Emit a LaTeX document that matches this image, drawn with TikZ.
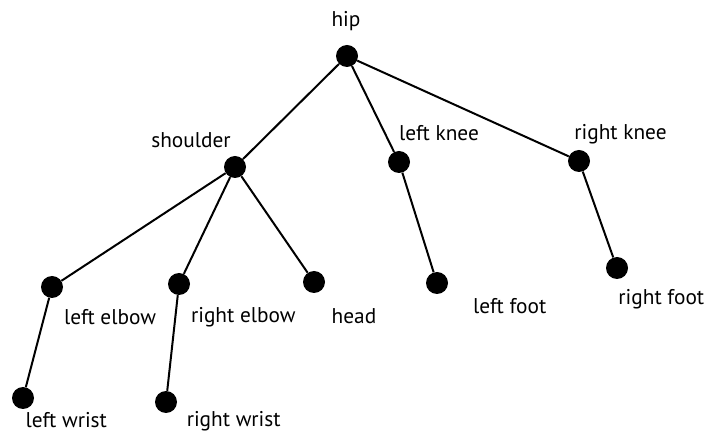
\documentclass[tikz,border=0pt]{standalone}
\usepackage{fontspec}
\setmainfont{PT Sans}
\usepackage{tikz}

\begin{document}
\begin{tikzpicture}[x=0.75pt, y=-0.75pt,
    joint/.style={circle, fill=black, inner sep=0pt, minimum size=16.5pt},
    bone/.style={line width=1.5pt},
    tag/.style={anchor=base, inner sep=0pt, font=\fontsize{16}{19}\selectfont}
]
\useasboundingbox (0,0) rectangle (707,434);
% joints
\node[joint] (hip) at (347, 56) {};
\node[joint] (shoulder) at (235, 167) {};
\node[joint] (lknee) at (399, 162) {};
\node[joint] (rknee) at (579, 161) {};
\node[joint] (lelbow) at (52, 287) {};
\node[joint] (relbow) at (179, 284) {};
\node[joint] (head) at (314, 282) {};
\node[joint] (lfoot) at (437, 283) {};
\node[joint] (rfoot) at (617, 268) {};
\node[joint] (lwrist) at (23, 398) {};
\node[joint] (rwrist) at (166, 402) {};
% labels
\node[tag] (hipLbl) at (346, 27) {hip};
\node[tag] (shoulderLbl) at (191, 147.7) {shoulder};
\node[tag] (lkneeLbl) at (439, 140.7) {left knee};
\node[tag] (rkneeLbl) at (620.5, 139.3) {right knee};
\node[tag] (lelbowLbl) at (110, 325) {left elbow};
\node[tag] (relbowLbl) at (243.3, 322.7) {right elbow};
\node[tag] (headLbl) at (354, 323.3) {head};
\node[tag] (lfootLbl) at (509.7, 313.3) {left foot};
\node[tag] (rfootLbl) at (661.3, 305) {right foot};
\node[tag] (lwristLbl) at (66.3, 428) {left wrist};
\node[tag] (rwristLbl) at (233.7, 427) {right wrist};
% bones
\draw[bone] (hip) -- (shoulder);
\draw[bone] (hip) -- (lknee);
\draw[bone] (hip) -- (rknee);
\draw[bone] (shoulder) -- (lelbow);
\draw[bone] (shoulder) -- (relbow);
\draw[bone] (shoulder) -- (head);
\draw[bone] (lknee) -- (lfoot);
\draw[bone] (rknee) -- (rfoot);
\draw[bone] (lelbow) -- (lwrist);
\draw[bone] (relbow) -- (rwrist);
\end{tikzpicture}
\end{document}
